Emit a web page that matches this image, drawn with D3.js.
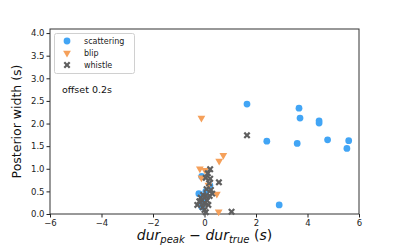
<!DOCTYPE html>
<html>
<head>
<meta charset="utf-8">
<script src="https://cdn.jsdelivr.net/npm/d3@7"></script>
<style>
  body { margin: 0; background: #fff; }
  text { font-family: "DejaVu Sans", sans-serif; }
</style>
</head>
<body>
<div id="chart"></div>
<script>
// data: [dur_peak - dur_true, posterior width]
var scattering = [
  [1.65, 2.43], [3.67, 2.34], [3.71, 2.12], [4.45, 2.06], [4.45, 2.01],
  [2.42, 1.61], [3.60, 1.56], [4.78, 1.64], [5.60, 1.62], [5.53, 1.45],
  [2.90, 0.20], [-0.22, 0.45], [-0.08, 0.35], [-0.11, 0.16], [-0.11, 0.83],
  [0.21, 0.63], [0.10, 0.38], [-0.05, 0.25], [0.05, 0.50]
];
var blip = [
  [-0.12, 2.12], [0.73, 1.30], [0.57, 1.17], [-0.18, 1.00], [0.02, 0.97],
  [-0.12, 0.80], [0.15, 0.64], [0.48, 0.44], [0.55, 0.05]
];
var whistle = [
  [1.65, 1.74], [0.56, 0.70], [1.05, 0.05], [0.22, 0.99], [0.13, 0.90],
  [0.05, 0.80], [0.22, 0.78], [0.25, 0.53], [0.30, 0.45], [0.05, 0.40],
  [-0.05, 0.42], [-0.15, 0.36], [0.0, 0.25], [-0.28, 0.20], [-0.07, 0.15],
  [0.0, 0.09], [0.05, 0.04], [-0.10, 0.30], [0.10, 0.30], [0.15, 0.20],
  [0.08, 0.55], [0.18, 0.68], [0.20, 0.40], [-0.20, 0.28]
];
var xTicks = [-6, -4, -2, 0, 2, 4, 6];
var yTicks = [0, 0.5, 1, 1.5, 2, 2.5, 3, 3.5, 4];
var seriesNames = ["scattering", "blip", "whistle"];
var seriesColors = ["#42a5f5", "#f5a05a", "#5f5f5f"];

var W = 399, H = 245;
var plot = {left: 50, right: 359, top: 29, bottom: 214};

var svg = d3.select("#chart").append("svg")
  .attr("width", W)
  .attr("height", H);

var x = d3.scaleLinear().domain([-6, 6]).range([plot.left, plot.right]);
var y = d3.scaleLinear().domain([0, 4.09]).range([plot.bottom, plot.top]);

// axes
var fmtMinus = function(d) { return d3.format("")(d).replace("-", "\u2212"); };

svg.append("g")
  .attr("transform", "translate(0," + plot.bottom + ")")
  .call(d3.axisBottom(x).tickValues(xTicks).tickFormat(fmtMinus).tickSize(3.5).tickPadding(2))
  .call(function(g) {
    g.select(".domain").remove();
    g.selectAll("text").style("font-size", "8.5px").attr("fill", "#222");
    g.selectAll("line").attr("stroke", "#222");
  });

svg.append("g")
  .attr("transform", "translate(" + plot.left + ",0)")
  .call(d3.axisLeft(y).tickValues(yTicks).tickFormat(d3.format(".1f")).tickSize(3.5).tickPadding(2))
  .call(function(g) {
    g.select(".domain").remove();
    g.selectAll("text").style("font-size", "8.5px").attr("fill", "#222");
    g.selectAll("line").attr("stroke", "#222");
  });

// frame
svg.append("rect")
  .attr("x", plot.left)
  .attr("y", plot.top)
  .attr("width", plot.right - plot.left)
  .attr("height", plot.bottom - plot.top)
  .attr("fill", "none")
  .attr("stroke", "#333")
  .attr("stroke-width", 1);

// filled "X" marker like matplotlib's
var fatX = {
  draw: function(ctx, size) {
    var a = Math.sqrt(size) * 0.55, b = a * 0.45;
    ctx.moveTo(-a, -a + b); ctx.lineTo(-a + b, -a); ctx.lineTo(0, -b);
    ctx.lineTo(a - b, -a); ctx.lineTo(a, -a + b); ctx.lineTo(b, 0);
    ctx.lineTo(a, a - b); ctx.lineTo(a - b, a); ctx.lineTo(0, b);
    ctx.lineTo(-a + b, a); ctx.lineTo(-a, a - b); ctx.lineTo(-b, 0);
    ctx.closePath();
  }
};

// markers
var circleSym = d3.symbol().type(d3.symbolCircle).size(36);
var triSym = d3.symbol().type(d3.symbolTriangle).size(26);
var xSym = d3.symbol().type(fatX).size(40);

function drawSeries(data, sym, color, rot) {
  svg.append("g").selectAll("path")
    .data(data)
    .enter().append("path")
    .attr("d", sym)
    .attr("fill", color)
    .attr("transform", function(d) {
      return "translate(" + x(d[0]) + "," + y(d[1]) + ") rotate(" + rot + ")";
    });
}

drawSeries(scattering, circleSym, seriesColors[0], 0);
drawSeries(blip, triSym, seriesColors[1], 180);
drawSeries(whistle, xSym, seriesColors[2], 0);

// legend
var legend = svg.append("g");
legend.append("rect")
  .attr("x", 54.5).attr("y", 33.5)
  .attr("width", 80).attr("height", 40)
  .attr("rx", 2)
  .attr("fill", "#fff")
  .attr("fill-opacity", 0.8)
  .attr("stroke", "#d0d0d0");

var legSyms = [circleSym, triSym, xSym];
var legRot = [0, 180, 0];
seriesNames.forEach(function(name, i) {
  var ly = 41 + i * 12;
  legend.append("path")
    .attr("d", legSyms[i])
    .attr("fill", seriesColors[i])
    .attr("transform", "translate(67," + ly + ") rotate(" + legRot[i] + ")");
  legend.append("text")
    .attr("x", 84)
    .attr("y", ly + 3)
    .style("font-size", "8px")
    .attr("fill", "#222")
    .text(name);
});

// annotation
svg.append("text")
  .attr("x", 62)
  .attr("y", 93)
  .style("font-size", "9.5px")
  .attr("fill", "#111")
  .text("offset 0.2s");

// y label
svg.append("text")
  .attr("transform", "translate(21," + ((plot.top + plot.bottom) / 2) + ") rotate(-90)")
  .style("text-anchor", "middle")
  .style("font-size", "12.5px")
  .attr("fill", "#111")
  .text("Posterior width (s)");

// x label (math style)
var xl = svg.append("text")
  .attr("x", (plot.left + plot.right) / 2)
  .attr("y", 240)
  .style("text-anchor", "middle")
  .style("font-size", "14px")
  .attr("fill", "#111");
xl.append("tspan").style("font-style", "italic").text("dur");
xl.append("tspan").style("font-style", "italic").style("font-size", "10px").attr("dy", 3).text("peak");
xl.append("tspan").attr("dy", -3).text(" \u2212 ");
xl.append("tspan").style("font-style", "italic").text("dur");
xl.append("tspan").style("font-style", "italic").style("font-size", "10px").attr("dy", 3).text("true");
xl.append("tspan").attr("dy", -3).text(" (");
xl.append("tspan").style("font-style", "italic").text("s");
xl.append("tspan").text(")");
</script>
</body>
</html>
